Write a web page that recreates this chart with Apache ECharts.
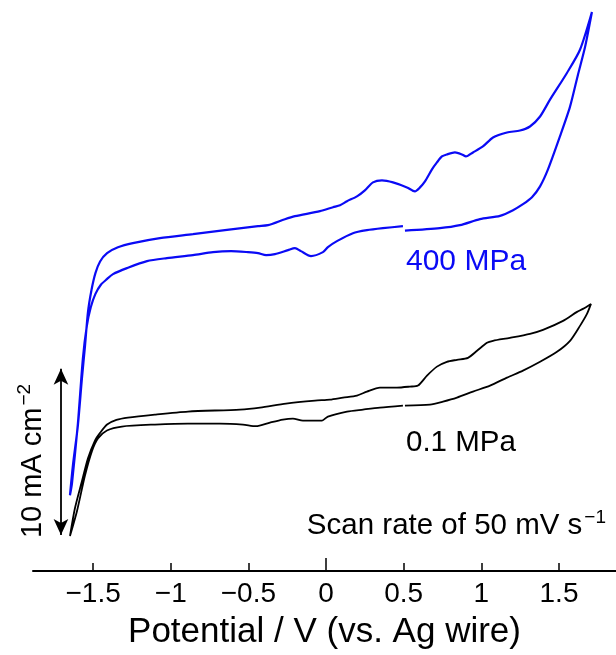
<!DOCTYPE html>
<html>
<head>
<meta charset="utf-8">
<script src="https://cdn.jsdelivr.net/npm/echarts@6/dist/echarts.min.js"></script>
<style>
  html, body { margin: 0; padding: 0; background: #fff; }
  #chart { width: 616px; height: 655px; }
</style>
</head>
<body>
<div id="chart"></div>
<script>
// x ticks (V vs. Ag wire)
const xTicks = [-1.5, -1, -0.5, 0, 0.5, 1, 1.5]
const xLongTick = [0]

// 400 MPa CV loop: [potential V, current mA cm-2 (offset for display)]
// starts at 0.5 V, sweeps up to 1.7 V, back to -1.65 V, then up to 0.5 V
const cv400 = [
  [0.508, 20.45], [0.733, 20.60], [0.862, 20.78], [0.991, 21.14], [1.120, 21.34],
  [1.204, 21.68], [1.268, 22.04], [1.326, 22.46], [1.378, 23.11], [1.429, 24.13],
  [1.506, 26.11], [1.571, 27.90], [1.622, 29.82], [1.668, 31.50], [1.712, 33.59],
  [1.635, 31.32], [1.552, 29.94], [1.442, 28.32], [1.378, 27.31], [1.313, 26.71],
  [1.249, 26.47], [1.165, 26.35], [1.075, 26.05], [1.010, 25.51], [0.946, 25.15],
  [0.901, 24.91], [0.875, 25.03], [0.830, 25.15], [0.778, 25.03], [0.746, 24.91],
  [0.714, 24.55], [0.682, 24.13], [0.637, 23.41], [0.605, 23.05], [0.572, 22.81],
  [0.521, 23.05], [0.431, 23.35], [0.360, 23.47], [0.302, 23.35], [0.250, 22.87],
  [0.199, 22.51], [0.135, 22.22], [0.090, 21.98], [0.045, 21.86], [-0.039, 21.62],
  [-0.200, 21.32], [-0.265, 21.14], [-0.374, 20.78], [-0.438, 20.72], [-0.651, 20.48],
  [-0.857, 20.24], [-1.070, 20.00], [-1.244, 19.70], [-1.340, 19.45], [-1.410, 19.10],
  [-1.455, 18.60], [-1.485, 17.90], [-1.510, 16.90], [-1.533, 15.57], [-1.552, 13.53],
  [-1.572, 11.56], [-1.598, 8.74], [-1.630, 6.35], [-1.649, 4.55],
  [-1.636, 5.27], [-1.598, 8.86], [-1.566, 12.75], [-1.540, 14.75], [-1.515, 15.85],
  [-1.485, 16.65], [-1.450, 17.20], [-1.411, 17.54], [-1.372, 17.84], [-1.282, 18.20],
  [-1.153, 18.62], [-1.025, 18.80], [-0.857, 18.98], [-0.728, 19.16], [-0.612, 19.22],
  [-0.503, 19.16], [-0.438, 19.10], [-0.386, 18.98], [-0.329, 19.04], [-0.245, 19.28],
  [-0.200, 19.40], [-0.162, 19.22], [-0.097, 18.92], [-0.020, 19.16], [0.012, 19.46],
  [0.070, 19.82], [0.173, 20.30], [0.263, 20.48], [0.366, 20.60], [0.495, 20.72]
]

// 0.1 MPa CV loop, same sweep order
const cv01 = [
  [0.508, 9.94], [0.669, 10.00], [0.753, 10.18], [0.843, 10.42], [0.946, 10.78],
  [1.056, 11.14], [1.165, 11.62], [1.268, 12.04], [1.378, 12.57], [1.487, 13.17],
  [1.571, 13.83], [1.635, 14.73], [1.680, 15.45], [1.706, 16.05],
  [1.654, 15.75], [1.616, 15.57], [1.526, 15.03], [1.397, 14.49], [1.313, 14.25],
  [1.184, 14.01], [1.075, 13.83], [1.036, 13.71], [0.972, 13.23], [0.914, 12.81],
  [0.843, 12.69], [0.778, 12.57], [0.714, 12.28], [0.650, 11.74], [0.592, 11.14],
  [0.540, 11.08], [0.456, 11.02], [0.347, 11.02], [0.263, 10.78], [0.199, 10.54],
  [0.109, 10.42], [0.025, 10.30], [-0.071, 10.24], [-0.258, 10.06], [-0.425, 9.82],
  [-0.554, 9.70], [-0.889, 9.58], [-1.102, 9.40], [-1.276, 9.22], [-1.350, 9.08],
  [-1.410, 8.80], [-1.455, 8.30], [-1.488, 7.84], [-1.533, 6.77], [-1.572, 5.39],
  [-1.617, 3.77], [-1.649, 2.10],
  [-1.604, 3.59], [-1.552, 5.75], [-1.508, 7.19], [-1.469, 7.96], [-1.411, 8.44],
  [-1.315, 8.68], [-1.102, 8.80], [-0.889, 8.86], [-0.683, 8.86], [-0.535, 8.80],
  [-0.452, 8.70], [-0.361, 8.92], [-0.278, 9.10], [-0.213, 9.16], [-0.149, 9.04],
  [-0.071, 9.04], [-0.026, 9.04], [0.012, 9.28], [0.135, 9.58], [0.238, 9.70],
  [0.347, 9.82], [0.495, 9.94]
]

// 10 mA cm-2 scale bar: x position and the two ends
const scaleBarX = [-1.707]
const scaleBarY = [2.16, 12.16]

const FONT = '"Liberation Sans", Arial, sans-serif'
const BLUE = '#0a0af5'
const X_MIN = -1.887
const X_MAX = 1.867

const chart = echarts.init(document.getElementById('chart'))

chart.setOption({
  backgroundColor: '#fff',
  animation: false,
  textStyle: { fontFamily: FONT },
  grid: { left: 33, right: 0, top: 0, bottom: 82, containLabel: false },
  xAxis: [
    {
      type: 'value',
      min: X_MIN,
      max: X_MAX,
      name: 'Potential / V (vs. Ag wire)',
      nameLocation: 'middle',
      nameGap: 44,
      nameTextStyle: { fontSize: 35, color: '#000', fontFamily: FONT },
      axisLine: { show: true, onZero: false, lineStyle: { color: '#000', width: 2 } },
      axisTick: {
        show: true, inside: true, length: 8, customValues: xTicks,
        lineStyle: { color: '#000', width: 1.5 }
      },
      axisLabel: {
        show: true, customValues: xTicks, margin: 9,
        fontSize: 28, color: '#000', fontFamily: FONT,
        formatter: v => (v < 0 ? '\u2212' : '') + Math.abs(v)
      },
      splitLine: { show: false }
    },
    {
      // longer tick at 0 V
      type: 'value',
      position: 'bottom',
      offset: 0,
      min: X_MIN,
      max: X_MAX,
      axisLine: { show: false, onZero: false },
      axisTick: {
        show: true, inside: true, length: 13, customValues: xLongTick,
        lineStyle: { color: '#000', width: 1.5 }
      },
      axisLabel: { show: false, customValues: xLongTick },
      splitLine: { show: false }
    }
  ],
  yAxis: {
    type: 'value',
    show: false,
    min: 0,
    max: 34.31
  },
  series: [
    {
      name: '400 MPa',
      type: 'line',
      data: cv400,
      showSymbol: false,
      smooth: 0.25,
      lineStyle: { color: BLUE, width: 2.2 },
      z: 3
    },
    {
      name: '0.1 MPa',
      type: 'line',
      data: cv01,
      showSymbol: false,
      smooth: 0.25,
      lineStyle: { color: '#000', width: 1.8 },
      z: 3,
      markLine: {
        silent: true,
        symbol: ['arrow', 'arrow'],
        symbolSize: [11, 16],
        label: { show: false },
        lineStyle: { color: '#000', width: 1.8, type: 'solid' },
        data: [[
          { coord: [scaleBarX[0], scaleBarY[0]] },
          { coord: [scaleBarX[0], scaleBarY[1]] }
        ]]
      }
    }
  ],
  graphic: [
    {
      type: 'text',
      x: 33, y: 461,
      rotation: Math.PI / 2,
      style: {
        text: '{m|10 mA cm}{s|\u22122}',
        align: 'center',
        verticalAlign: 'middle',
        rich: {
          m: { fontSize: 29, fontFamily: FONT, fill: '#000' },
          s: { fontSize: 19, fontFamily: FONT, fill: '#000', padding: [0, 0, 17, 2] }
        }
      }
    },
    {
      type: 'text',
      left: 406, top: 247,
      style: { text: '400 MPa', fontSize: 30, fontFamily: FONT, fill: BLUE }
    },
    {
      type: 'text',
      left: 406, top: 428,
      style: { text: '0.1 MPa', fontSize: 29.5, fontFamily: FONT, fill: '#000' }
    },
    {
      type: 'text',
      right: 10, top: 508,
      style: {
        text: '{m|Scan rate of 50 mV s}{s|\u22121}',
        rich: {
          m: { fontSize: 29.5, fontFamily: FONT, fill: '#000' },
          s: { fontSize: 19, fontFamily: FONT, fill: '#000', padding: [0, 0, 17, 2] }
        }
      }
    }
  ]
})
</script>
</body>
</html>
